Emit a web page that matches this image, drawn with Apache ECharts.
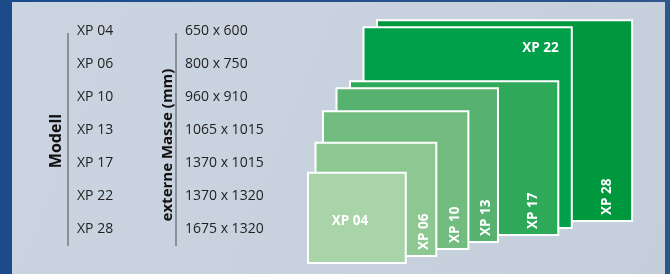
<!DOCTYPE html>
<html>
<head>
<meta charset="utf-8">
<script src="https://cdn.jsdelivr.net/npm/echarts@6/dist/echarts.min.js"></script>
<style>
  html, body { margin: 0; padding: 0; }
  #chart { width: 670px; height: 274px; }
</style>
</head>
<body>
<div id="chart"></div>
<script>
// Modelle und externe Masse (mm)
const models = ['XP 04', 'XP 06', 'XP 10', 'XP 13', 'XP 17', 'XP 22', 'XP 28'];
const widthsMm = [650, 800, 960, 1065, 1370, 1370, 1675];
const heightsMm = [600, 750, 910, 1015, 1015, 1320, 1320];
const dimLabels = models.map((m, i) => widthsMm[i] + ' x ' + heightsMm[i]);

const fills = ['#a9d4a9', '#8dc892', '#73bc80', '#58b26f', '#2ea95a', '#00a04b', '#00983d'];
const FONT = 'Open Sans';

// versatz der gestapelten rechtecke (pixel)
function stepX(i) { return i < 2 ? 7.5 * i : 15 + 13.5 * (i - 2); }
function stepY(i) { return 7 * i; }

const chart = echarts.init(document.getElementById('chart'));

chart.setOption({
  animation: false,
  backgroundColor: {
    type: 'linear', x: 0, y: 0, x2: 1, y2: 0,
    colorStops: [{ offset: 0, color: '#1b4b8b' }, { offset: 1, color: '#2d5689' }]
  },
  graphic: [
    {
      type: 'rect', left: 12, top: 2, z: -1,
      shape: { width: 653, height: 272 },
      style: {
        fill: {
          type: 'linear', x: 0, y: 0, x2: 1, y2: 1,
          colorStops: [{ offset: 0, color: '#cbd5e1' }, { offset: 1, color: '#c5cfdb' }]
        }
      }
    },
    { type: 'line', z: 1, shape: { x1: 68, y1: 33, x2: 68, y2: 246 }, style: { stroke: '#8b9096', lineWidth: 2 } },
    { type: 'line', z: 1, shape: { x1: 176, y1: 33, x2: 176, y2: 246 }, style: { stroke: '#8b9096', lineWidth: 2 } }
  ],
  grid: [
    { left: 68, top: 14, width: 100, height: 232 },
    { left: 176, top: 14, width: 100, height: 232 },
    { left: 307, top: 3, width: 2200 * 0.1535, height: 1700 * 0.1535 }
  ],
  xAxis: [
    { gridIndex: 0, type: 'value', show: false },
    { gridIndex: 1, type: 'value', show: false },
    { gridIndex: 2, type: 'value', show: false, min: 0, max: 2200 }
  ],
  yAxis: [
    {
      gridIndex: 0, type: 'category', inverse: true, data: models, z: 3,
      name: 'Modell', nameLocation: 'middle', nameGap: 4, nameRotate: 90,
      nameTextStyle: { fontFamily: FONT, fontWeight: 'bold', fontSize: 16, color: '#111', padding: [0, 22, 0, 0] },
      axisLine: { show: false }, axisTick: { show: false }, splitLine: { show: false },
      axisLabel: { inside: true, margin: 9, fontFamily: FONT, fontSize: 14, color: '#222' }
    },
    {
      gridIndex: 1, type: 'category', inverse: true, data: dimLabels, z: 3,
      name: 'externe Masse (mm)', nameLocation: 'middle', nameGap: 1, nameRotate: 90,
      nameTextStyle: { fontFamily: FONT, fontWeight: 'bold', fontSize: 15, color: '#111', padding: [0, 30, 0, 0] },
      axisLine: { show: false }, axisTick: { show: false }, splitLine: { show: false },
      axisLabel: { inside: true, margin: 9, fontFamily: FONT, fontSize: 14, color: '#222' }
    },
    { gridIndex: 2, type: 'value', show: false, min: 0, max: 1700 }
  ],
  series: [{
    type: 'custom',
    xAxisIndex: 2,
    yAxisIndex: 2,
    data: widthsMm.map((w, i) => [w, heightsMm[i]]),
    renderItem: function (params, api) {
      const i = params.dataIndex;
      const origin = api.coord([0, 0]);
      const size = api.size([api.value(0), api.value(1)]);
      const left = origin[0] + stepX(i);
      const bottom = origin[1] - stepY(i);
      const top = bottom - size[1];
      const right = left + size[0];
      const txt = { fill: '#fff', fontFamily: FONT, fontWeight: 'bold', fontSize: 13.5 };
      let label;
      if (i === 0) {
        label = { type: 'text', x: left + size[0] * 0.43, y: top + size[1] * 0.54,
          style: Object.assign({ text: models[i], align: 'center', verticalAlign: 'middle' }, txt) };
      } else if (i === 5) {
        label = { type: 'text', x: right - 14, y: top + 22,
          style: Object.assign({ text: models[i], align: 'right', verticalAlign: 'middle' }, txt) };
      } else {
        const prevRight = origin[0] + stepX(i - 1) + api.size([widthsMm[i - 1], 0])[0];
        label = { type: 'text', x: prevRight + 0.57 * (right - prevRight), y: bottom - 7, rotation: Math.PI / 2,
          style: Object.assign({ text: models[i], align: 'left', verticalAlign: 'middle' }, txt) };
      }
      label.z2 = (7 - i) * 2 + 1;
      return {
        type: 'group',
        children: [
          {
            type: 'rect', z2: (7 - i) * 2,
            shape: { x: left + 1, y: top + 1, width: size[0] - 2, height: size[1] - 2 },
            style: { fill: fills[i], stroke: '#fff', lineWidth: 2 }
          },
          label
        ]
      };
    }
  }]
});

window.onresize = function () { chart.resize(); };
</script>
</body>
</html>
